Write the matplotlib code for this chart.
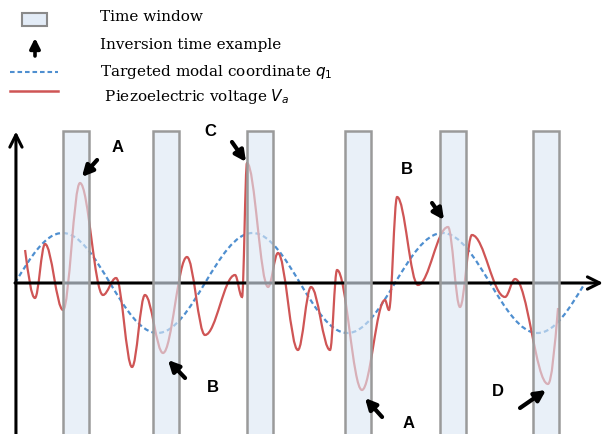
import matplotlib
matplotlib.use("Agg")
import matplotlib.pyplot as plt
from matplotlib.path import Path
from matplotlib.patches import PathPatch, Rectangle
import matplotlib.colors as mcolors

# ---------------- data (time in modal periods, amplitude normalised to q1) ----------------
# targeted modal coordinate q1: extrema and end points
q_t = [0.0, 0.25, 0.75, 1.25, 1.75, 2.25, 2.75, 3.0]
q_y = [0.0, 1.0, -1.0, 1.0, -1.0, 1.0, -1.0, 0.0]

# piezoelectric voltage Va: start/end points and local extrema
v_t = [0.053, 0.105, 0.158, 0.253, 0.342, 0.463, 0.532, 0.616, 0.684, 0.779,
       0.905, 1.000, 1.158, 1.195, 1.221, 1.332, 1.384, 1.489, 1.558, 1.658,
       1.695, 1.826, 1.947, 1.968, 2.011, 2.121, 2.279, 2.342, 2.405, 2.579,
       2.632, 2.805, 2.858]
v_y = [0.66, -0.30, 0.78, -0.54, 2.00, -0.24, 0.10, -1.68, -0.24, -1.40,
       0.52, -1.04, 0.16, -0.28, 2.40, -0.08, 0.60, -1.34, -0.08, -1.34,
       0.26, -2.14, -0.34, -0.54, 1.72, -0.04, 1.12, -0.48, 0.96, -0.28,
       0.08, -2.02, -0.50]

# time windows (start times) and width
win_start = [0.253, 0.726, 1.221, 1.737, 2.237, 2.726]
win_width = 0.135

# inversion-time examples: label, arrow head (t, y), arrow tail (t, y), label position (t, y)
ann_labels = ["A", "C", "B", "B", "A", "D"]
ann_head = [(0.352, 2.12), (1.216, 2.42), (2.258, 1.26), (0.805, -1.54), (1.842, -2.30), (2.795, -2.14)]
ann_tail = [(0.432, 2.46), (1.142, 2.82), (2.195, 1.60), (0.895, -1.90), (1.932, -2.68), (2.658, -2.50)]
ann_text = [(0.542, 2.72), (1.026, 3.04), (2.063, 2.26), (1.042, -2.10), (2.074, -2.80), (2.542, -2.18)]

legend_labels = ["Time window", "Inversion time example",
                 r"Targeted modal coordinate $q_1$", r" Piezoelectric voltage $V_a$"]

# ---------------- styles ----------------
RED = "#cf5555"
BLUE = "#4f8fd0"
WIN_FACE = mcolors.to_rgba("#dde8f5", 0.62)
WIN_EDGE = "#9a9a9a"


def smooth_path(xs, ys):
    """Cubic Bezier path through points, horizontal tangents at interior extrema."""
    verts = [(xs[0], ys[0])]
    codes = [Path.MOVETO]
    n = len(xs)
    for i in range(n - 1):
        x0, y0, x1, y1 = xs[i], ys[i], xs[i + 1], ys[i + 1]
        dx, dy = x1 - x0, y1 - y0
        if i == 0:
            c1 = (x0 + dx / 3.0, y0 + 0.52 * dy)
        else:
            c1 = (x0 + 0.364 * dx, y0)
        if i + 1 == n - 1:
            c2 = (x1 - dx / 3.0, y1 - 0.52 * dy)
        else:
            c2 = (x1 - 0.364 * dx, y1)
        verts += [c1, c2, (x1, y1)]
        codes += [Path.CURVE4] * 3
    return Path(verts, codes)


W, H = 605, 434
fig = plt.figure(figsize=(W / 100, H / 100), dpi=100)

ax = fig.add_axes([0, 0, 1, 1])
ax.set_xlim(-15 / 190, 590 / 190)
ax.set_ylim(-151 / 50, 283 / 50)
ax.axis("off")

# curves
ax.add_patch(PathPatch(smooth_path(q_t, q_y), fill=False, edgecolor=BLUE, lw=1.6,
                       linestyle=(0, (2.2, 1.4)), zorder=2))
ax.add_patch(PathPatch(smooth_path(v_t, v_y), fill=False, edgecolor=RED, lw=1.6, zorder=2.5))

# axes arrows
ax.annotate("", xy=(3.095, 0), xytext=(0.0, 0),
            arrowprops=dict(arrowstyle="->", lw=2.2, color="black", mutation_scale=22,
                            shrinkA=0, shrinkB=0), zorder=3)
ax.annotate("", xy=(0.005, 3.03), xytext=(0.005, -3.1),
            arrowprops=dict(arrowstyle="->", lw=2.2, color="black", mutation_scale=22,
                            shrinkA=0, shrinkB=0), zorder=3)

# time windows
ax.bar(win_start, 6.2, width=win_width, bottom=-3.16, align="edge",
       facecolor=WIN_FACE, edgecolor=WIN_EDGE, linewidth=1.8, zorder=4)

# inversion annotations
for lab, hd, tl, tx in zip(ann_labels, ann_head, ann_tail, ann_text):
    ax.annotate("", xy=hd, xytext=tl,
                arrowprops=dict(arrowstyle="-|>", lw=3.0, color="black", mutation_scale=16,
                                shrinkA=0, shrinkB=0), zorder=6)
    ax.text(tx[0], tx[1], lab, fontsize=12, fontweight="bold", family="Liberation Sans",
            ha="center", va="center", zorder=6)

# ---------------- legend (pixel-space overlay) ----------------
lg = fig.add_axes([0, 0, 1, 1])
lg.set_xlim(0, W)
lg.set_ylim(H, 0)
lg.axis("off")
lg.patch.set_alpha(0)

lg.add_patch(Rectangle((22, 13), 25, 13, facecolor="#e3ecf7", edgecolor="#8a8a8a", lw=1.5))
lg.annotate("", xy=(35, 38), xytext=(35, 56),
            arrowprops=dict(arrowstyle="-|>", lw=2.6, color="black", mutation_scale=15,
                            shrinkA=0, shrinkB=0))
lg.plot([10, 58], [72, 72], color=BLUE, lw=1.5, linestyle=(0, (2.2, 1.4)))
lg.plot([10, 58], [91, 91], color=RED, lw=1.8)

for y, lab in zip([17, 45, 72, 97], legend_labels):
    lg.text(100, y, lab, fontsize=11, family="DejaVu Serif", ha="left", va="center")

fig.savefig("out.png", dpi=100)
